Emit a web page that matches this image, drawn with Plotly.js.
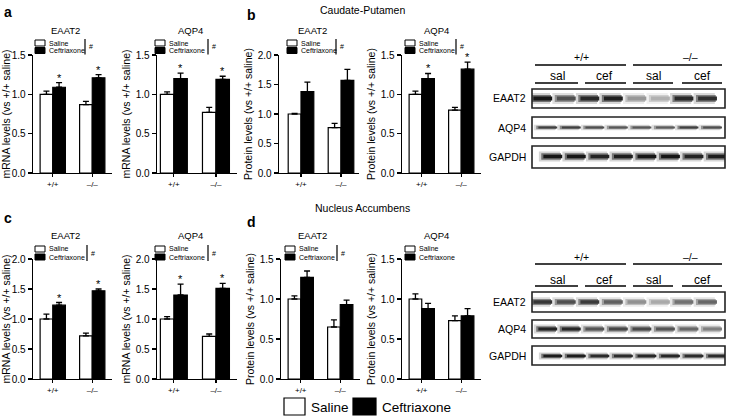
<!DOCTYPE html>
<html><head><meta charset="utf-8">
<script src="https://cdn.plot.ly/plotly-3.0.1.min.js"></script>
<style>html,body{margin:0;padding:0;background:#fff}#chart{width:729px;height:417px}</style>
</head><body><div id="chart"></div>
<script>
// ---------- DATA ----------
const genotypes = ['+/+', '–/–'];
const treatments = ['Saline', 'Ceftriaxone'];
const mrnaTitle = 'mRNA levels (vs +/+ saline)';
const protTitle = 'Protein levels (vs +/+ saline)';
const yTicks15 = [0, 0.5, 1.0, 1.5];
const yTicks20 = [0, 0.5, 1.0, 1.5, 2.0];

// a: Caudate-Putamen mRNA
const a_eaat2_sal = [1.00, 0.87], a_eaat2_sal_err = [0.04, 0.04];
const a_eaat2_cef = [1.09, 1.21], a_eaat2_cef_err = [0.06, 0.04];
const a_aqp4_sal = [1.00, 0.77],  a_aqp4_sal_err = [0.03, 0.065];
const a_aqp4_cef = [1.20, 1.19],  a_aqp4_cef_err = [0.07, 0.04];
// b: Caudate-Putamen protein
const b_eaat2_sal = [1.00, 0.77], b_eaat2_sal_err = [0.01, 0.07];
const b_eaat2_cef = [1.38, 1.57], b_eaat2_cef_err = [0.16, 0.185];
const b_aqp4_sal = [1.00, 0.80],  b_aqp4_sal_err = [0.04, 0.035];
const b_aqp4_cef = [1.20, 1.32],  b_aqp4_cef_err = [0.065, 0.09];
// c: Nucleus Accumbens mRNA
const c_eaat2_sal = [1.00, 0.72], c_eaat2_sal_err = [0.08, 0.045];
const c_eaat2_cef = [1.23, 1.47], c_eaat2_cef_err = [0.045, 0.03];
const c_aqp4_sal = [1.00, 0.71],  c_aqp4_sal_err = [0.04, 0.04];
const c_aqp4_cef = [1.40, 1.51],  c_aqp4_cef_err = [0.18, 0.085];
// d: Nucleus Accumbens protein
const d_eaat2_sal = [1.00, 0.65], d_eaat2_sal_err = [0.04, 0.09];
const d_eaat2_cef = [1.27, 0.93], d_eaat2_cef_err = [0.08, 0.055];
const d_aqp4_sal = [1.00, 0.73],  d_aqp4_sal_err = [0.065, 0.06];
const d_aqp4_cef = [0.88, 0.79],  d_aqp4_cef_err = [0.065, 0.09];

// significance marks (* above ceftriaxone bar per genotype; # = treatment effect)
const a_eaat2_star = [true, true],  a_aqp4_star = [true, true];
const b_eaat2_star = [false, false], b_aqp4_star = [true, true];
const c_eaat2_star = [true, true],  c_aqp4_star = [true, true];
const d_eaat2_star = [false, false], d_aqp4_star = [false, false];
const hashMarks = [true, true, true, true, true, true, true, false];

// Western blots: band density (0 = blank, 1 = black) for 8 lanes
const blotRows = ['EAAT2', 'AQP4', 'GAPDH'];
const blotLanes = [0, 1, 2, 3, 4, 5, 6, 7];
const laneGroups = ['sal', 'cef', 'sal', 'cef'];
const cpu_eaat2 = [0.95, 0.72, 0.88, 0.92, 0.42, 0.32, 0.88, 0.85];
const cpu_aqp4  = [0.78, 0.78, 0.72, 0.68, 0.68, 0.66, 0.78, 0.72];
const cpu_gapdh = [0.95, 0.95, 0.9, 0.92, 0.95, 0.95, 0.9, 0.92];
const nac_eaat2 = [0.82, 0.72, 0.8, 0.65, 0.45, 0.35, 0.58, 0.62];
const nac_aqp4  = [0.9, 0.88, 0.7, 0.75, 0.75, 0.7, 0.62, 0.52];
const nac_gapdh = [0.92, 0.92, 0.86, 0.86, 0.88, 0.88, 0.86, 0.86];

// ---------- LAYOUT HELPERS ----------
const W = 729, H = 417;
const X = v => v / W, Y = v => 1 - v / H;
const FONT = 'Liberation Sans, Arial, Helvetica, sans-serif';

const rows = [
  {yd: [55, 173], titleY: 30, legY: [43, 50.5]},
  {yd: [259, 379], titleY: 235, legY: [249, 257]}
];
const panels = [
  {sal:a_eaat2_sal, se:a_eaat2_sal_err, cef:a_eaat2_cef, ce:a_eaat2_cef_err, star:a_eaat2_star, title:'EAAT2', yt:mrnaTitle, row:0, xd:[33,112], xr:[-0.5,1.5], yt2:yTicks15, tx:65, lx:35, hx:85},
  {sal:a_aqp4_sal, se:a_aqp4_sal_err, cef:a_aqp4_cef, ce:a_aqp4_cef_err, star:a_aqp4_star, title:'AQP4', yt:mrnaTitle, row:0, xd:[157,237], xr:[-0.4,1.5], yt2:yTicks15, tx:190, lx:155, hx:208},
  {sal:b_eaat2_sal, se:b_eaat2_sal_err, cef:b_eaat2_cef, ce:b_eaat2_cef_err, star:b_eaat2_star, title:'EAAT2', yt:protTitle, row:0, xd:[279,359], xr:[-0.55,1.45], yt2:yTicks20, tx:312, lx:287, hx:336},
  {sal:b_aqp4_sal, se:b_aqp4_sal_err, cef:b_aqp4_cef, ce:b_aqp4_cef_err, star:b_aqp4_star, title:'AQP4', yt:protTitle, row:0, xd:[402,481], xr:[-0.5,1.5], yt2:yTicks15, tx:436, lx:405, hx:456},
  {sal:c_eaat2_sal, se:c_eaat2_sal_err, cef:c_eaat2_cef, ce:c_eaat2_cef_err, star:c_eaat2_star, title:'EAAT2', yt:mrnaTitle, row:1, xd:[33,112], xr:[-0.5,1.5], yt2:yTicks20, tx:65, lx:35, hx:87},
  {sal:c_aqp4_sal, se:c_aqp4_sal_err, cef:c_aqp4_cef, ce:c_aqp4_cef_err, star:c_aqp4_star, title:'AQP4', yt:mrnaTitle, row:1, xd:[157,237], xr:[-0.4,1.5], yt2:yTicks20, tx:190, lx:155, hx:208},
  {sal:d_eaat2_sal, se:d_eaat2_sal_err, cef:d_eaat2_cef, ce:d_eaat2_cef_err, star:d_eaat2_star, title:'EAAT2', yt:protTitle, row:1, xd:[281,360], xr:[-0.5,1.5], yt2:yTicks15, tx:312, lx:285, hx:337},
  {sal:d_aqp4_sal, se:d_aqp4_sal_err, cef:d_aqp4_cef, ce:d_aqp4_cef_err, star:d_aqp4_star, title:'AQP4', yt:protTitle, row:1, xd:[402,481], xr:[-0.5,1.5], yt2:yTicks15, tx:436, lx:405, hx:null}
];

const traces = [];
const layout = {
  width: W, height: H, margin: {l:0, r:0, t:0, b:0},
  paper_bgcolor: '#fff', plot_bgcolor: 'rgba(0,0,0,0)',
  showlegend: false, barmode: 'group', bargap: 0.36, bargroupgap: 0,
  font: {family: FONT, color: '#000'},
  annotations: [], shapes: []
};
const ann = (x, y, text, size, opts) => layout.annotations.push(Object.assign({
  xref:'paper', yref:'paper', x:X(x), y:Y(y), text, showarrow:false,
  font:{family:FONT, size, color:'#000'}, xanchor:'center', yanchor:'middle'}, opts || {}));
const rect = (x0, y0, x1, y1, fill, lw) => layout.shapes.push({type:'rect', xref:'paper', yref:'paper',
  x0:X(x0), x1:X(x1), y0:Y(y0), y1:Y(y1), fillcolor:fill, line:{color:'#000', width:lw}});
const line = (x0, y0, x1, y1, lw) => layout.shapes.push({type:'line', xref:'paper', yref:'paper',
  x0:X(x0), x1:X(x1), y0:Y(y0), y1:Y(y1), line:{color:'#000', width:lw}});

const barHalf = (1 - layout.bargap) / 4; // offset of each bar centre within a group

panels.forEach((p, k) => {
  const n = k + 1, xa = n === 1 ? 'x' : 'x' + n, ya = n === 1 ? 'y' : 'y' + n;
  const xk = n === 1 ? 'xaxis' : 'xaxis' + n, yk = n === 1 ? 'yaxis' : 'yaxis' + n;
  const r = rows[p.row];
  const xs = genotypes.map((g, i) => i);
  const errStyle = {type:'data', symmetric:false, color:'#000', thickness:1.3, width:3};
  traces.push({type:'bar', x:xs, y:p.sal, name:treatments[0], xaxis:xa, yaxis:ya,
    marker:{color:'#fff', line:{color:'#000', width:1.2}},
    error_y:Object.assign({array:p.se, arrayminus:p.se.map(() => 0)}, errStyle), hoverinfo:'skip'});
  traces.push({type:'bar', x:xs, y:p.cef, name:treatments[1], xaxis:xa, yaxis:ya,
    marker:{color:'#000', line:{color:'#000', width:1.2}},
    error_y:Object.assign({array:p.ce, arrayminus:p.ce.map(() => 0)}, errStyle), hoverinfo:'skip'});
  const ticks = p.yt2;
  layout[xk] = {domain:[X(p.xd[0]), X(p.xd[1])], range:p.xr, anchor:ya, showline:true, linecolor:'#000', linewidth:1.3,
    ticks:'outside', ticklen:3, tickwidth:1.3, tickcolor:'#000', tickvals:xs, ticktext:genotypes,
    tickfont:{family:FONT, size:8, color:'#000'}, showgrid:false, zeroline:false, fixedrange:true};
  layout[yk] = {domain:[Y(r.yd[1]), Y(r.yd[0])], range:[0, ticks[ticks.length - 1]], anchor:xa, showline:true,
    linecolor:'#000', linewidth:1.3, ticks:'outside', ticklen:4, tickwidth:1.3, tickcolor:'#000',
    tickvals:ticks, ticktext:ticks.map(v => v.toFixed(1)),
    tickfont:{family:FONT, size:10, color:'#000'}, showgrid:false, zeroline:false, fixedrange:true,
    title:{text:p.yt, font:{family:FONT, size:10.5, color:'#000'}, standoff:3}};
  // stars above ceftriaxone bars
  p.star.forEach((s, i) => {
    if (s) layout.annotations.push({xref:xa, yref:ya, x:i + barHalf, y:p.cef[i] + p.ce[i], text:'*',
      showarrow:false, yanchor:'bottom', yshift:-3, font:{family:FONT, size:11, color:'#000'}});
  });
  // panel title
  ann(p.tx, r.titleY, p.title, 9.5);
  // mini legend
  rect(p.lx, r.legY[0] - 3, p.lx + 10, r.legY[0] + 3, '#fff', 1);
  rect(p.lx, r.legY[1] - 3, p.lx + 10, r.legY[1] + 3, '#000', 1);
  ann(p.lx + 12, r.legY[0], treatments[0], 7, {xanchor:'left'});
  ann(p.lx + 12, r.legY[1], treatments[1], 7, {xanchor:'left'});
  if (hashMarks[k]) {
    line(p.hx, r.legY[0] - 4, p.hx, r.legY[1] + 4, 1.2);
    ann(p.hx + 1.5, (r.legY[0] + r.legY[1]) / 2, '#', 7, {xanchor:'left'});
  }
});

// panel letters and region titles
ann(8, 12, '<b>a</b>', 14); ann(251, 15, '<b>b</b>', 14);
ann(8, 218, '<b>c</b>', 14); ann(251, 222, '<b>d</b>', 14);
ann(362, 10, 'Caudate-Putamen', 10.5);
ann(362, 208, 'Nucleus Accumbens', 10.5);

// bottom legend
rect(284, 398, 305, 415, '#fff', 1.2);
ann(309, 407, treatments[0], 13.5, {xanchor:'left'});
rect(353, 398, 376, 415, '#000', 1.2);
ann(380, 407, treatments[1], 13.5, {xanchor:'left'});

// ---------- WESTERN BLOTS ----------
const blots = [
  {dens:[cpu_eaat2, cpu_aqp4, cpu_gapdh], th:[0.17, 0.09, 0.16], y0:98.5, step:29, hdr:57, hl:65, sub:76.5, sl:83,
   boxes:[[89,108],[117,138],[146,168]]},
  {dens:[nac_eaat2, nac_aqp4, nac_gapdh], th:[0.16, 0.15, 0.12], y0:302, step:27, hdr:257, hl:264, sub:279.5, sl:286,
   boxes:[[292,312],[320,338],[346,365]]}
];
const bx0 = 532, bx1 = 725;
const gray = (v, k) => { const g = Math.round(255 - k * v); return `rgb(${g},${g},${g})`; };
blots.forEach((b, j) => {
  const n = 9 + j, xa = 'x' + n, ya = 'y' + n;
  layout['xaxis' + n] = {domain:[X(bx0), X(bx1)], range:[-0.6, 7.6], anchor:ya, visible:false, fixedrange:true};
  layout['yaxis' + n] = {domain:[Y(b.y0 + 2.55 * b.step), Y(b.y0 - 0.55 * b.step)], range:[2.55, -0.55],
    anchor:xa, visible:false, fixedrange:true};
  blotRows.forEach((name, ri) => {
    const d = b.dens[ri], th = b.th[ri];
    // faint membrane background, soft halo, then core band
    traces.push({type:'bar', x:blotLanes, y:blotLanes.map(() => th * 2.2), base:blotLanes.map(() => ri - th * 1.1),
      width:0.9, xaxis:xa, yaxis:ya, hoverinfo:'skip',
      marker:{color:d.map(v => gray(v, 45)), line:{width:0}}});
    traces.push({type:'bar', x:blotLanes, y:blotLanes.map(() => th * 1.4), base:blotLanes.map(() => ri - th * 0.7),
      width:0.84, xaxis:xa, yaxis:ya, hoverinfo:'skip',
      marker:{color:d.map(v => gray(v, 150)), line:{width:0}}});
    traces.push({type:'bar', x:blotLanes, y:blotLanes.map(() => th * 0.8), base:blotLanes.map(() => ri - th * 0.4),
      width:0.8, xaxis:xa, yaxis:ya, hoverinfo:'skip',
      marker:{color:d.map(v => gray(v, 245)), line:{width:0}}});
    const bb = b.boxes[ri];
    layout.shapes.push({type:'rect', xref:'paper', yref:'paper', x0:X(bx0), x1:X(bx1), y0:Y(bb[0]), y1:Y(bb[1]),
      line:{color:'#222', width:1.6}, fillcolor:'rgba(0,0,0,0)'});
    ann(528, (bb[0] + bb[1]) / 2, name, 10.5, {xanchor:'right'});
  });
  // headers
  ann(581, b.hdr, genotypes[0], 10.5); ann(690, b.hdr, genotypes[1], 10.5);
  line(535, b.hl, 626, b.hl, 1.3); line(633, b.hl, 722, b.hl, 1.3);
  const subX = [557, 604, 653, 702], subL = [[535,578],[585,626],[633,673],[682,722]];
  laneGroups.forEach((t, i) => {
    ann(subX[i], b.sub, t, 12);
    line(subL[i][0], b.sl, subL[i][1], b.sl, 1.3);
  });
});

Plotly.newPlot('chart', traces, layout, {staticPlot:true, displayModeBar:false});
</script></body></html>
